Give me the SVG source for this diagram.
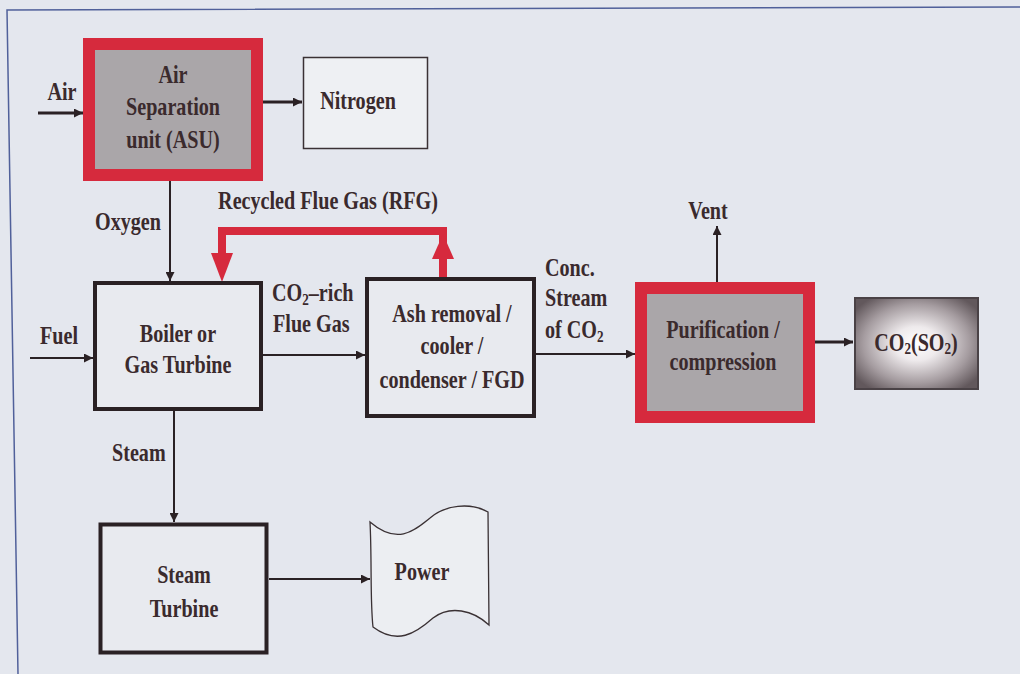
<svg xmlns="http://www.w3.org/2000/svg" width="1020" height="674" viewBox="0 0 1020 674">
<defs>
<style>
.t{font-family:"Liberation Serif","Times New Roman",serif;font-weight:bold;font-size:26px;fill:#3a2a2d}
.m{text-anchor:middle}
.box{fill:#e8eaef;stroke:#2a2124;stroke-width:4}
.red{fill:#aaa6a9;stroke:#d62a3d;stroke-width:12}
.ln{stroke:#2a2124;stroke-width:2;fill:none}
.lt{stroke:#2a2124;stroke-width:3;fill:none}
.sub{font-size:17px}
</style>
<marker id="ah" viewBox="0 0 10 10" refX="10" refY="5" markerWidth="10" markerHeight="9" markerUnits="userSpaceOnUse" orient="auto">
<path d="M0,0 L10,5 L0,10 z" fill="#2a2124"/>
</marker>
<radialGradient id="glow" cx="0.5" cy="0.5" r="0.62">
<stop offset="0" stop-color="#ffffff"/>
<stop offset="0.3" stop-color="#eeeaec"/>
<stop offset="0.7" stop-color="#a59ca0"/>
<stop offset="1" stop-color="#62585c"/>
</radialGradient>
</defs>
<rect x="0" y="0" width="1020" height="674" fill="#e4e7ee"/>
<polyline points="1020,7 7,10 18,674" fill="none" stroke="#50609a" stroke-width="1.5"/>

<g id="connectors">
<line class="lt" x1="38" y1="113" x2="83" y2="113" marker-end="url(#ah)"/>
<line class="lt" x1="263" y1="102" x2="302" y2="102" marker-end="url(#ah)"/>
<line class="ln" x1="170" y1="181" x2="170" y2="281" marker-end="url(#ah)"/>
<line class="ln" x1="30" y1="358" x2="93" y2="358" marker-end="url(#ah)"/>
<line class="ln" x1="263" y1="355" x2="365" y2="355" marker-end="url(#ah)"/>
<line class="ln" x1="174" y1="411" x2="174" y2="522" marker-end="url(#ah)"/>
<line class="ln" x1="536" y1="354" x2="635" y2="354" marker-end="url(#ah)"/>
<line class="ln" x1="717" y1="282" x2="717" y2="226" marker-end="url(#ah)"/>
<line class="lt" x1="815" y1="342" x2="853" y2="342" marker-end="url(#ah)"/>
<line class="ln" x1="269" y1="579" x2="370" y2="579" marker-end="url(#ah)"/>
<g id="rfg" fill="#d62a3d">
<path d="M443,277 L443,231 L222,231 L222,254" fill="none" stroke="#d62a3d" stroke-width="8"/>
<polygon points="211,253 233,253 222,282"/>
<polygon points="432,259 454,259 443,234"/>
</g>
</g>

<g id="asu">
<rect class="red" x="89" y="44" width="168" height="131"/>
<text class="t m" transform="translate(173,83) scale(0.775 1)">Air</text>
<text class="t m" transform="translate(173,115) scale(0.775 1)">Separation</text>
<text class="t m" transform="translate(173,148) scale(0.775 1)">unit (ASU)</text>
</g>
<g id="nitrogen">
<rect x="303.5" y="57.5" width="124" height="91" fill="#eef0f3" stroke="#3a3134" stroke-width="1.5"/>
<text class="t m" transform="translate(358,109) scale(0.775 1)">Nitrogen</text>
</g>
<g id="boiler">
<rect class="box" x="95" y="283" width="166" height="126"/>
<text class="t m" transform="translate(178,342) scale(0.775 1)">Boiler or</text>
<text class="t m" transform="translate(178,373) scale(0.775 1)">Gas Turbine</text>
</g>
<g id="ash">
<rect class="box" x="367" y="279" width="167" height="137"/>
<text class="t m" transform="translate(452,322) scale(0.775 1)">Ash removal /</text>
<text class="t m" transform="translate(452,354) scale(0.775 1)">cooler /</text>
<text class="t m" transform="translate(452,388) scale(0.775 1)">condenser / FGD</text>
</g>
<g id="purification">
<rect class="red" x="641" y="288" width="168" height="129"/>
<text class="t m" transform="translate(723,338) scale(0.775 1)">Purification /</text>
<text class="t m" transform="translate(723,370) scale(0.775 1)">compression</text>
</g>
<g id="co2">
<rect x="855" y="298" width="123" height="91" fill="url(#glow)" stroke="#4a4246" stroke-width="2"/>
<text class="t m" transform="translate(916,351) scale(0.775 1)">CO<tspan class="sub" dy="3">2</tspan><tspan dy="-3">(SO</tspan><tspan class="sub" dy="3">2</tspan><tspan dy="-3">)</tspan></text>
</g>
<g id="steamturbine">
<rect class="box" x="100.5" y="524.5" width="166" height="128" stroke-width="5"/>
<text class="t m" transform="translate(184,583) scale(0.775 1)">Steam</text>
<text class="t m" transform="translate(184,617) scale(0.775 1)">Turbine</text>
</g>
<g id="power">
<path d="M370,522 C398,546 415,530 430,518 C445,505 470,502 488,512 L489,625 C473,610 450,605 433,618 C415,634 397,645 373,627 C370,600 372,560 370,522 z" fill="#eceef2" stroke="#3a3134" stroke-width="1.3"/>
<text class="t m" transform="translate(422,580) scale(0.775 1)">Power</text>
</g>

<g id="labels">
<text class="t m" transform="translate(62,100) scale(0.775 1)">Air</text>
<text class="t m" transform="translate(128,230) scale(0.775 1)">Oxygen</text>
<text class="t m" transform="translate(328,209) scale(0.775 1)">Recycled Flue Gas (RFG)</text>
<text class="t" transform="translate(40,344) scale(0.775 1)">Fuel</text>
<text class="t" transform="translate(272,301) scale(0.775 1)">CO<tspan class="sub" dy="4">2</tspan><tspan dy="-4">–rich</tspan></text>
<text class="t" transform="translate(273,332) scale(0.775 1)">Flue Gas</text>
<text class="t" transform="translate(112,461) scale(0.775 1)">Steam</text>
<text class="t" transform="translate(545,276) scale(0.775 1)">Conc.</text>
<text class="t" transform="translate(545,306) scale(0.775 1)">Stream</text>
<text class="t" transform="translate(545,338) scale(0.775 1)">of CO<tspan class="sub" dy="4">2</tspan></text>
<text class="t m" transform="translate(708,219) scale(0.775 1)">Vent</text>
</g>
</svg>
